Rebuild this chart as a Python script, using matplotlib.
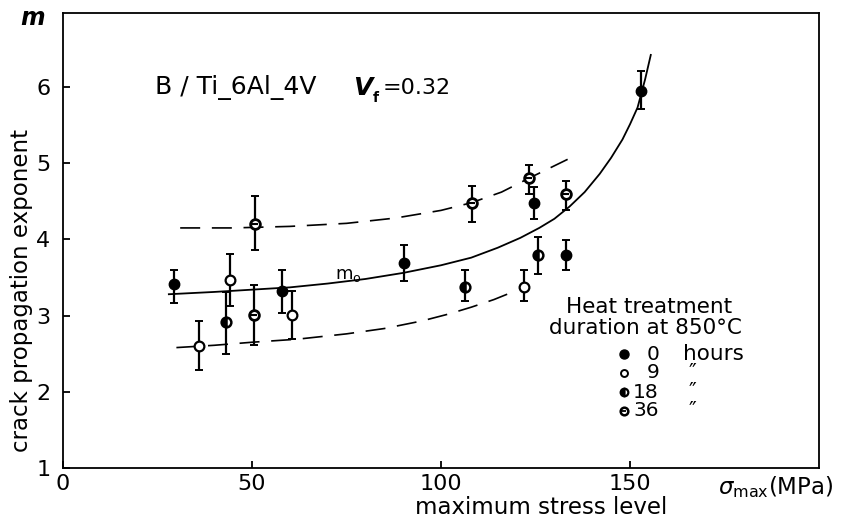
import matplotlib.pyplot as plt
import numpy as np

# measured points: sigma_max (MPa), m, lower / upper end of the scatter bar
h0_x = [29.4, 58.0, 90.2, 124.5, 133.1, 152.9]
h0_m = [3.42, 3.32, 3.69, 4.48, 3.80, 5.95]
h0_lo = [3.17, 3.03, 3.45, 4.27, 3.60, 5.71]
h0_hi = [3.60, 3.60, 3.93, 4.69, 3.99, 6.21]

h9_x = [36.1, 44.2, 60.5, 122.0]
h9_m = [2.60, 3.47, 3.01, 3.38]
h9_lo = [2.28, 3.13, 2.69, 3.19]
h9_hi = [2.93, 3.81, 3.32, 3.60]

h18_x = [43.1, 106.3, 125.7]
h18_m = [2.92, 3.38, 3.80]
h18_lo = [2.50, 3.19, 3.54]
h18_hi = [3.31, 3.60, 4.03]

h36_x = [50.5, 50.8, 108.3, 123.2, 133.2]
h36_m = [3.01, 4.20, 4.48, 4.80, 4.59]
h36_lo = [2.61, 3.86, 4.23, 4.60, 4.39]
h36_hi = [3.40, 4.57, 4.70, 4.98, 4.76]

# m0 curve and the two dashed scatter bounds
m0_x = [28, 40, 50, 60, 70, 80, 90, 100, 108, 115, 121, 126, 130, 134, 138, 142, 145, 148, 150, 152, 154, 155.5]
m0_y = [3.28, 3.31, 3.34, 3.37, 3.42, 3.48, 3.56, 3.66, 3.76, 3.89, 4.02, 4.15, 4.27, 4.43, 4.62, 4.86, 5.07, 5.31, 5.51, 5.73, 6.10, 6.42]
up_x = [31, 45, 60, 75, 88, 100, 108, 116, 124, 133.5]
up_y = [4.15, 4.15, 4.17, 4.21, 4.28, 4.38, 4.48, 4.62, 4.82, 5.05]
lo_x = [30, 40, 50, 62, 75, 85, 95, 102, 108, 114, 120]
lo_y = [2.58, 2.61, 2.65, 2.69, 2.76, 2.83, 2.93, 3.02, 3.11, 3.21, 3.33]

x_ticks = [0, 50, 100, 150]
y_ticks = [1, 2, 3, 4, 5, 6]

plt.rcParams['font.family'] = 'DejaVu Sans'

W, H = 842, 518
fig = plt.figure(figsize=(W / 100, H / 100), dpi=100)
ax = fig.add_axes([63 / W, 1 - 468 / H, (819 - 63) / W, (468 - 13) / H])


def fx(px):
    return px / W


def fy(py):
    return 1 - py / H


ax.plot(m0_x, m0_y, color='black', lw=1.3)
ax.plot(up_x, up_y, color='black', lw=1.2, ls=(0, (12, 7)))
ax.plot(lo_x, lo_y, color='black', lw=1.2, ls=(0, (12, 7)))


def bars(xs, ms, lo, hi):
    ms = np.array(ms)
    yerr = [ms - np.array(lo), np.array(hi) - ms]
    ax.errorbar(xs, ms, yerr=yerr, fmt='none', ecolor='black', elinewidth=1.6,
                capsize=2.8, capthick=1.4, zorder=3)


bars(h0_x, h0_m, h0_lo, h0_hi)
bars(h9_x, h9_m, h9_lo, h9_hi)
bars(h18_x, h18_m, h18_lo, h18_hi)
bars(h36_x, h36_m, h36_lo, h36_hi)

ax.plot(h0_x, h0_m, 'o', ms=7.5, mfc='black', mec='black', zorder=4)
ax.plot(h9_x, h9_m, 'o', ms=7, mfc='white', mec='black', mew=1.6, zorder=4)
ax.plot(h18_x, h18_m, 'o', ms=7, mfc='black', mfcalt='white', fillstyle='left',
        mec='black', mew=1.8, zorder=4)
ax.plot(h36_x, h36_m, 'o', ms=7, mfc='white', mec='black', mew=2.0, zorder=4)
ax.plot(h36_x, h36_m, '_', ms=4, mec='black', mew=1.5, zorder=5)

ax.set_xlim(0, 200)
ax.set_ylim(1, 6.97)
ax.set_xticks(x_ticks)
ax.set_yticks(y_ticks)
ax.tick_params(direction='in', length=5, width=1.3, labelsize=16)
ax.tick_params(axis='x', pad=4)
ax.tick_params(axis='y', pad=9)
for s in ax.spines.values():
    s.set_linewidth(1.3)

fig.text(fx(33), fy(18), 'm', fontsize=17, fontweight='bold', fontstyle='italic',
         ha='center', va='center')

fig.text(fx(22), fy(290), 'crack propagation exponent', rotation=90,
         fontsize=16.5, ha='center', va='center')
fig.text(fx(541), fy(507), 'maximum stress level', fontsize=16.5, ha='center', va='center')
fig.text(fx(718), fy(487), r'$\sigma_{\mathrm{max}}$(MPa)', fontsize=16.5, ha='left', va='center')

# header text
fig.text(fx(155), fy(88), 'B / Ti_6Al_4V', fontsize=18, ha='left', va='center')
fig.text(fx(353), fy(88), 'V', fontsize=18, fontweight='bold', fontstyle='italic',
         ha='left', va='center')
fig.text(fx(373), fy(98), 'f', fontsize=10, fontweight='bold', ha='left', va='center')
fig.text(fx(383), fy(88), '=0.32', fontsize=16, ha='left', va='center')

ax.text(72, 3.53, r'm$_\mathrm{o}$', fontsize=13, ha='left', va='center')

# hand-drawn legend
fig.text(fx(649), fy(307), 'Heat treatment', fontsize=15.5, ha='center', va='center')
fig.text(fx(645), fy(328), 'duration at 850°C', fontsize=15.5, ha='center', va='center')
rows = [354, 373, 392, 411]
labels = ['0', '9', '18', '36']
for ry, lab in zip(rows, labels):
    fig.text(fx(659), fy(ry), lab, fontsize=14.5, ha='right', va='center')
fig.text(fx(683), fy(354), 'hours', fontsize=15.5, ha='left', va='center')
for ry in rows[1:]:
    fig.text(fx(692), fy(ry), '″', fontsize=15, ha='center', va='center')

lx = fx(624)
fig.lines.append(plt.Line2D([lx], [fy(354)], marker='o', ms=6.5, mfc='black', mec='black',
                            transform=fig.transFigure))
fig.lines.append(plt.Line2D([lx], [fy(373)], marker='o', ms=5, mfc='white', mec='black', mew=1.4,
                            transform=fig.transFigure))
fig.lines.append(plt.Line2D([lx], [fy(392)], marker='o', ms=5.5, mfc='black', mfcalt='white',
                            fillstyle='left', mec='black', mew=1.6, transform=fig.transFigure))
fig.lines.append(plt.Line2D([lx], [fy(411)], marker='o', ms=5.5, mfc='white', mec='black', mew=1.8,
                            transform=fig.transFigure))
fig.lines.append(plt.Line2D([lx], [fy(411)], marker='_', ms=3, mec='black', mew=1.3,
                            transform=fig.transFigure))

fig.savefig('out.png', dpi=100)
